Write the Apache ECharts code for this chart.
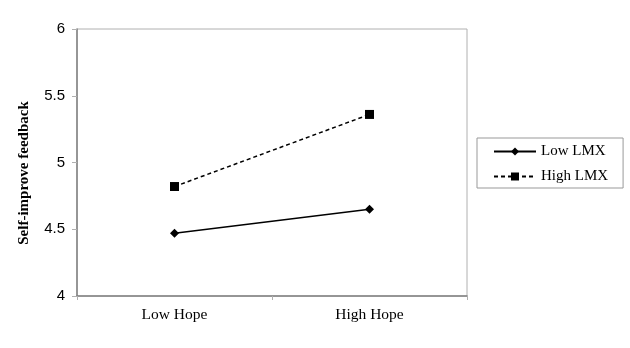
<!DOCTYPE html>
<html>
<head>
<meta charset="utf-8">
<script src="https://cdn.jsdelivr.net/npm/echarts@6/dist/echarts.min.js"></script>
<style>
  html, body { margin: 0; padding: 0; background: #fff; }
  #chart { width: 630px; height: 348px; }
</style>
</head>
<body>
<div id="chart"></div>
<script>
// data
var categories = ['Low Hope', 'High Hope'];
var lowLMX = [4.47, 4.65];
var highLMX = [4.82, 5.36];
var yTicks = [4, 4.5, 5, 5.5, 6];

var chart = echarts.init(document.getElementById('chart'));

chart.setOption({
    animation: false,
    backgroundColor: '#fff',
    grid: { left: 77, right: 163, top: 29, bottom: 52, show: true, borderColor: '#b0b0b0', borderWidth: 1 },
    legend: {
        orient: 'vertical',
        left: 477,
        top: 138,
        padding: [6, 15, 4, 16],
        itemWidth: 42,
        itemHeight: 10,
        itemGap: 10,
        borderColor: '#999',
        borderWidth: 1,
        textStyle: { fontFamily: 'Liberation Serif', fontSize: 15, color: '#000' },
        data: ['Low LMX', 'High LMX']
    },
    xAxis: {
        type: 'category',
        data: categories,
        boundaryGap: true,
        axisLine: { lineStyle: { color: '#808080', width: 1.5 } },
        axisTick: { show: true, length: 4, lineStyle: { color: '#b0b0b0' } },
        axisLabel: { fontFamily: 'Liberation Serif', fontSize: 15.5, color: '#000', margin: 11 }
    },
    yAxis: {
        type: 'value',
        min: yTicks[0],
        max: yTicks[yTicks.length - 1],
        interval: 0.5,
        name: 'Self-improve feedback',
        nameLocation: 'middle',
        nameGap: 45,
        nameTextStyle: { fontFamily: 'Liberation Serif', fontWeight: 'bold', fontSize: 15, color: '#000', padding: [0, 21, 0, 0] },
        axisLine: { show: true, lineStyle: { color: '#808080', width: 1.5 } },
        axisTick: { show: true, length: 5, lineStyle: { color: '#b0b0b0' } },
        splitLine: { show: false },
        axisLabel: { fontFamily: 'Liberation Sans', fontSize: 15, color: '#000', margin: 12 }
    },
    series: [
        {
            name: 'Low LMX',
            type: 'line',
            data: lowLMX,
            symbol: 'diamond',
            symbolSize: 9,
            itemStyle: { color: '#000' },
            lineStyle: { color: '#000', width: 1.5, type: 'solid' }
        },
        {
            name: 'High LMX',
            type: 'line',
            data: highLMX,
            symbol: 'rect',
            symbolSize: 9,
            itemStyle: { color: '#000' },
            lineStyle: { color: '#000', width: 1.5, type: [4, 3] }
        }
    ]
});
</script>
</body>
</html>
